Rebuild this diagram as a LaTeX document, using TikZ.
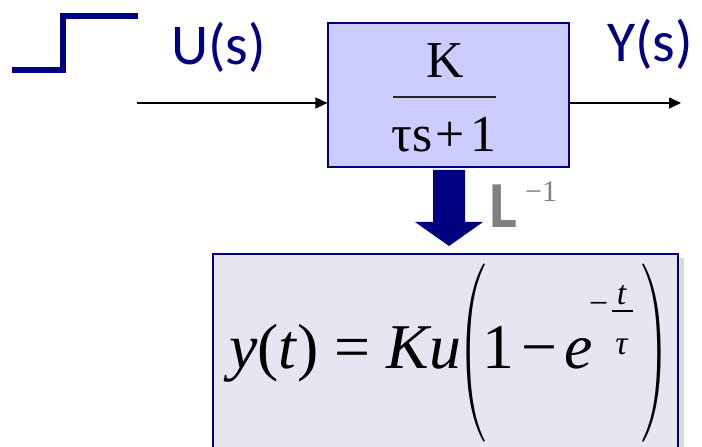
\documentclass[tikz,border=0pt]{standalone}
\usepackage{fontspec}
\usepackage{graphicx}
\setmainfont{Liberation Serif}
\newfontfamily\calib{Carlito}
\usetikzlibrary{arrows.meta,shadows}
\definecolor{navy}{RGB}{0,0,128}
\definecolor{boxA}{RGB}{204,204,255}
\definecolor{boxB}{RGB}{230,230,242}
\definecolor{lgray}{RGB}{128,128,128}
\newcommand{\bigparen}[1]{\resizebox*{28bp}{178bp}{\usefont{OMX}{cmex}{m}{n}\char#1}}
\tikzset{
  sig/.style={line width=1.5bp, -{Triangle[length=12bp,width=11bp]}},
  stepline/.style={draw=navy, line width=6bp, line join=miter, line cap=butt},
  lbl/.style={font=\calib\fontsize{58}{58}\selectfont, text=navy, inner sep=0},
  tf/.style={font=\fontsize{52}{52}\selectfont, inner sep=0},
  eq/.style={font=\fontsize{64}{64}\selectfont, inner sep=0},
  expo/.style={font=\fontsize{34}{34}\selectfont, inner sep=0},
  delim/.style={inner sep=0},
}
\begin{document}
\begin{tikzpicture}[x=1bp,y=-1bp]
\useasboundingbox (0,0) rectangle (702,447);
\clip (0,0) rectangle (702,447);
% step signal
\draw[stepline] (12,70) -- (63,70) -- (63,16) -- (138,16);
% labels
\node[lbl, anchor=base west] (ulbl) at (171,65) {U(s)};
\node[lbl, anchor=base west] (ylbl) at (607,62) {Y(s)};
% plant block
\node[draw=navy, fill=boxA, line width=1.2bp, minimum width=241bp, minimum height=144bp, inner sep=0] (plant) at (448.5,95) {};
\node[tf, anchor=base] (num) at (445,78) {K};
\coordinate (barl) at (393,97);
\coordinate (barr) at (496,97);
\draw[line width=1.3bp, black!85] (barl) -- (barr);
\node[tf, anchor=base] (den) at (444,152) {τs\kern3bp+\kern6bp1};
% signals
\coordinate (uin) at (137,103);
\coordinate (yout) at (681,103);
\draw[sig] (uin) -- (uin -| plant.west);
\draw[sig] (yout -| plant.east) -- (yout);
% inverse Laplace arrow
\fill[navy] (433,170) -- (465,170) -- (465,222) -- (483,222) -- (449,246) -- (415,222) -- (433,222) -- cycle;
\node[font=\calib\bfseries\fontsize{66}{66}\selectfont, text=lgray, anchor=base west, inner sep=0] (linv) at (489,228) {L};
\node[font=\fontsize{30}{30}\selectfont, text=lgray, anchor=base west, inner sep=0] (linvexp) at (525,202) {−1};
% result box
\node[draw=navy, fill=boxB, line width=2bp, drop shadow={shadow xshift=6bp, shadow yshift=-4bp, opacity=0.25, fill=black!60}, minimum width=465bp, minimum height=220bp, inner sep=0, anchor=north west] (eqbox) at (212,253) {};
\node[eq, anchor=base west] (lhs) at (229,368) {\textit{y}(\textit{t}) = \textit{Ku}};
\node[delim] (lpar) at (472.5,353.5) {\bigparen{"20}};
\node[eq, anchor=base west] (inner) at (482,368) {1\kern7bp−\kern7bp\textit{e}};
\node[expo, anchor=base west] (expminus) at (589,315) {−};
\coordinate (ebarl) at (612,311);
\coordinate (ebarr) at (633,311);
\draw[line width=1.2bp] (ebarl) -- (ebarr);
\node[expo, anchor=base] (expt) at (622,305) {\textit{t}};
\node[expo, anchor=base] (exptau) at (622,354) {\textit{τ}};
\node[delim] (rpar) at (655,353.5) {\bigparen{"21}};
\end{tikzpicture}
\end{document}
